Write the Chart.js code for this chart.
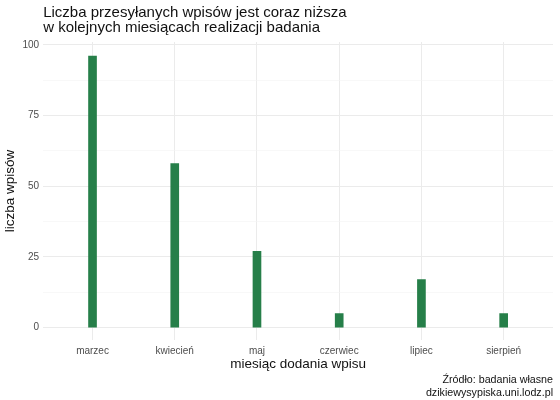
<!DOCTYPE html>
<html lang="pl">
  <head>
    <meta charset="UTF-8" />
    <title>Liczba wpisów</title>
    <script src="https://cdn.jsdelivr.net/npm/chart.js@4"></script>
    <style>
      html, body { margin: 0; padding: 0; background: #fff; }
      #wrap { width: 560px; height: 400px; position: relative; }
    </style>
  </head>
  <body>
    <div id="wrap"><canvas id="myChart"></canvas></div>
    <script>
      const months = ['marzec', 'kwiecień', 'maj', 'czerwiec', 'lipiec', 'sierpień'];
      const counts = [96, 58, 27, 5, 17, 5];
      const yTicks = [0, 12.5, 25, 37.5, 50, 62.5, 75, 87.5, 100];

      Chart.defaults.font.family = '"Liberation Sans", Arial, sans-serif';

      const ctx = document.getElementById('myChart').getContext('2d');
      const myChart = new Chart(ctx, {
        type: 'bar',
        data: {
          datasets: [{
            label: 'liczba wpisów',
            data: months.map((m, i) => ({ x: i, y: counts[i] })),
            backgroundColor: '#267f49',
            barThickness: 8
          }]
        },
        options: {
          responsive: true,
          maintainAspectRatio: false,
          animation: false,
          layout: { padding: { left: 4, right: 7, top: 0, bottom: 1 } },
          plugins: {
            legend: { display: false },
            tooltip: { enabled: false },
            title: {
              display: true,
              fullSize: false,
              text: ['Liczba przesyłanych wpisów jest coraz niższa', 'w kolejnych miesiącach realizacji badania'],
              align: 'start',
              color: '#111',
              font: { size: 15, weight: 'normal', lineHeight: 1.0 },
              padding: { top: 5, bottom: 7 }
            },
            subtitle: {
              display: true,
              position: 'bottom',
              align: 'end',
              text: ['Źródło: badania własne', 'dzikiewysypiska.uni.lodz.pl'],
              color: '#111',
              font: { size: 10.7, lineHeight: 1.2 },
              padding: { top: 2, bottom: 0 }
            }
          },
          scales: {
            x: {
              type: 'linear',
              offset: false,
              min: -0.6,
              max: 5.6,
              afterBuildTicks: axis => { axis.ticks = months.map((m, i) => ({ value: i })); },
              ticks: {
                callback: v => months[v],
                color: '#4d4d4d',
                font: { size: 10 },
                padding: 5,
                maxRotation: 0,
                autoSkip: false
              },
              grid: { offset: false, color: '#ebebeb', lineWidth: 1, drawTicks: false },
              border: { display: false },
              title: {
                display: true,
                text: 'miesiąc dodania wpisu',
                color: '#111',
                font: { size: 13.5, lineHeight: 1.0 },
                padding: { top: -4, bottom: 0 }
              }
            },
            y: {
              min: -4.3,
              max: 101,
              afterBuildTicks: axis => { axis.ticks = yTicks.map(v => ({ value: v })); },
              ticks: {
                callback: v => (v % 25 === 0 ? v : ''),
                color: '#4d4d4d',
                font: { size: 10 },
                padding: 4
              },
              grid: {
                color: c => (c.tick && c.tick.value % 25 === 0 ? '#ebebeb' : '#f4f4f4'),
                lineWidth: c => (c.tick && c.tick.value % 25 === 0 ? 1 : 0.6),
                drawTicks: false
              },
              border: { display: false },
              title: {
                display: true,
                text: 'liczba wpisów',
                color: '#111',
                font: { size: 13.5, lineHeight: 1.0 },
                padding: { top: 0, bottom: 1 }
              }
            }
          }
        }
      });
    </script>
  </body>
</html>
